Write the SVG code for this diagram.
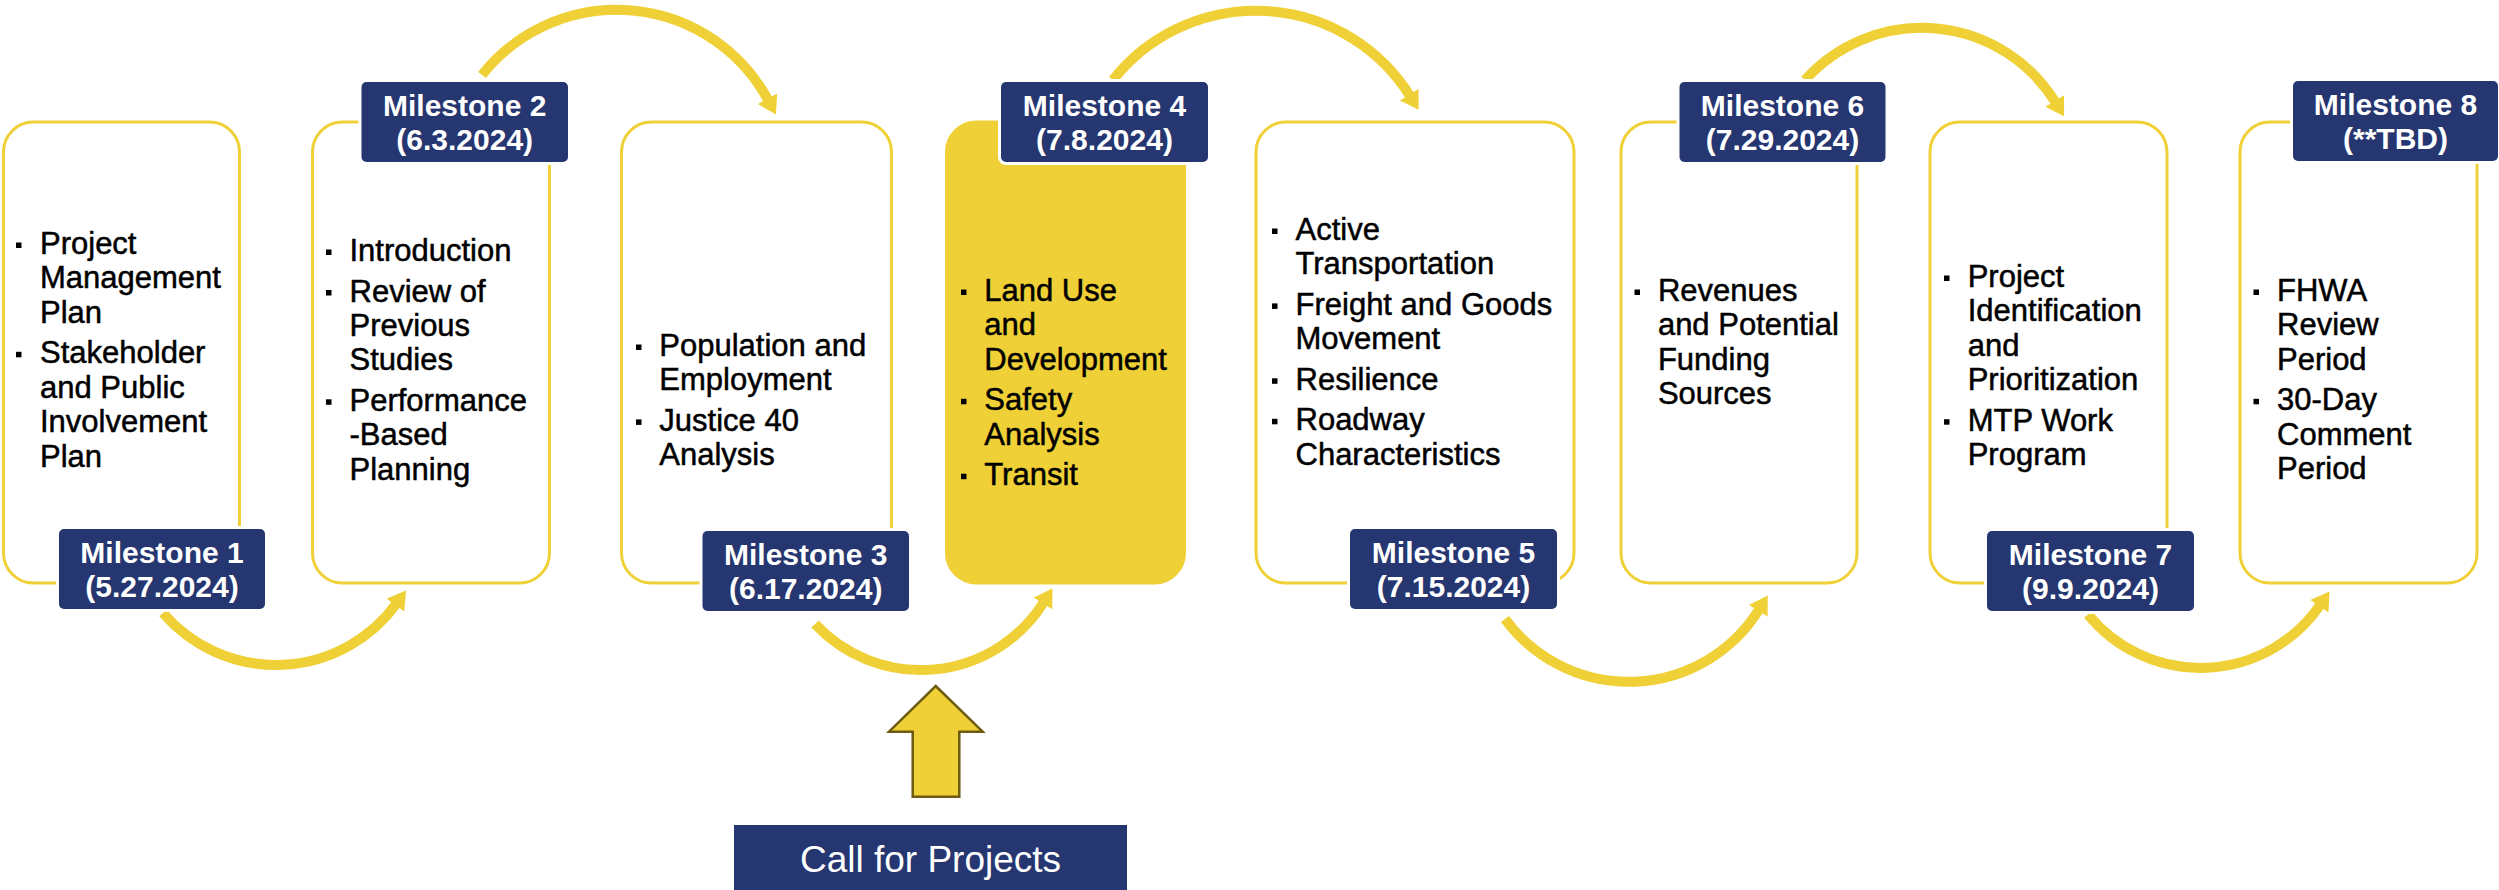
<svg xmlns="http://www.w3.org/2000/svg" width="2499" height="890" viewBox="0 0 2499 890">
<style>
.box{fill:#fff;stroke:#EFD036;stroke-width:3}
.hl{fill:#EFD036}
.lbl{fill:#253670;stroke:#fff;stroke-width:6;paint-order:stroke}
.lt{font-family:"Liberation Sans",Arial,sans-serif;font-weight:bold;font-size:30px;fill:#fff;text-anchor:middle}
.bt{font-family:"Liberation Sans",Arial,sans-serif;font-size:31px;fill:#000;stroke:#000;stroke-width:0.5}
.bul{fill:#000}
.arc{fill:none;stroke:#EFD036;stroke-width:10;marker-end:url(#ah)}
.cfp{fill:#EFD036;stroke:#6E5B12;stroke-width:2.5;stroke-linejoin:miter}
.ct{font-family:"Liberation Sans",Arial,sans-serif;font-size:37px;fill:#fff;text-anchor:middle}
</style>
<defs>
<marker id="ah" markerUnits="userSpaceOnUse" markerWidth="30" markerHeight="30" viewBox="0 -15 30 30" refX="2" refY="0" orient="auto">
<path d="M0,-11 L18,0 L0,11 z" fill="#EFD036"/>
</marker>
</defs>

<g id="box1">
<rect class="box" x="3.5" y="122" width="236" height="461" rx="30"/>
<rect class="bul" x="16" y="242.5" width="5.5" height="5.5"/>
<rect class="bul" x="16" y="351.8" width="5.5" height="5.5"/>
<text class="bt"><tspan x="40" y="254">Project</tspan><tspan x="40" y="288.4">Management</tspan><tspan x="40" y="322.8">Plan</tspan><tspan x="40" y="363.3">Stakeholder</tspan><tspan x="40" y="397.7">and Public</tspan><tspan x="40" y="432.1">Involvement</tspan><tspan x="40" y="466.5">Plan</tspan></text>
</g>

<g id="box2">
<rect class="box" x="312.5" y="122" width="237" height="461" rx="30"/>
<rect class="bul" x="326" y="249.5" width="5.5" height="5.5"/>
<rect class="bul" x="326" y="290" width="5.5" height="5.5"/>
<rect class="bul" x="326" y="399.3" width="5.5" height="5.5"/>
<text class="bt"><tspan x="349.5" y="261">Introduction</tspan><tspan x="349.5" y="301.5">Review of</tspan><tspan x="349.5" y="335.9">Previous</tspan><tspan x="349.5" y="370.3">Studies</tspan><tspan x="349.5" y="410.8">Performance</tspan><tspan x="349.5" y="445.2">-Based</tspan><tspan x="349.5" y="479.6">Planning</tspan></text>
</g>

<g id="box3">
<rect class="box" x="621.5" y="122" width="270" height="461" rx="30"/>
<rect class="bul" x="636" y="344.5" width="5.5" height="5.5"/>
<rect class="bul" x="636" y="419.4" width="5.5" height="5.5"/>
<text class="bt"><tspan x="659.3" y="356">Population and</tspan><tspan x="659.3" y="390.4">Employment</tspan><tspan x="659.3" y="430.9">Justice 40</tspan><tspan x="659.3" y="465.3">Analysis</tspan></text>
</g>

<g id="box4">
<rect class="box hl" x="946.5" y="122" width="238" height="461" rx="30"/>
<rect class="bul" x="961" y="289.5" width="5.5" height="5.5"/>
<rect class="bul" x="961" y="398.8" width="5.5" height="5.5"/>
<rect class="bul" x="961" y="473.7" width="5.5" height="5.5"/>
<text class="bt"><tspan x="984.3" y="301">Land Use</tspan><tspan x="984.3" y="335.4">and</tspan><tspan x="984.3" y="369.8">Development</tspan><tspan x="984.3" y="410.3">Safety</tspan><tspan x="984.3" y="444.7">Analysis</tspan><tspan x="984.3" y="485.2">Transit</tspan></text>
</g>

<g id="box5">
<rect class="box" x="1256" y="122" width="318" height="461" rx="30"/>
<rect class="bul" x="1272" y="228.5" width="5.5" height="5.5"/>
<rect class="bul" x="1272" y="303.4" width="5.5" height="5.5"/>
<rect class="bul" x="1272" y="378.3" width="5.5" height="5.5"/>
<rect class="bul" x="1272" y="418.8" width="5.5" height="5.5"/>
<text class="bt"><tspan x="1295.5" y="240">Active</tspan><tspan x="1295.5" y="274.4">Transportation</tspan><tspan x="1295.5" y="314.9">Freight and Goods</tspan><tspan x="1295.5" y="349.3">Movement</tspan><tspan x="1295.5" y="389.8">Resilience</tspan><tspan x="1295.5" y="430.3">Roadway</tspan><tspan x="1295.5" y="464.7">Characteristics</tspan></text>
</g>

<g id="box6">
<rect class="box" x="1621" y="122" width="236" height="461" rx="30"/>
<rect class="bul" x="1634.5" y="289.5" width="5.5" height="5.5"/>
<text class="bt"><tspan x="1657.9" y="301">Revenues</tspan><tspan x="1657.9" y="335.4">and Potential</tspan><tspan x="1657.9" y="369.8">Funding</tspan><tspan x="1657.9" y="404.2">Sources</tspan></text>
</g>

<g id="box7">
<rect class="box" x="1930" y="122" width="237" height="461" rx="30"/>
<rect class="bul" x="1944" y="275.5" width="5.5" height="5.5"/>
<rect class="bul" x="1944" y="419.2" width="5.5" height="5.5"/>
<text class="bt"><tspan x="1967.7" y="287">Project</tspan><tspan x="1967.7" y="321.4">Identification</tspan><tspan x="1967.7" y="355.8">and</tspan><tspan x="1967.7" y="390.2">Prioritization</tspan><tspan x="1967.7" y="430.7">MTP Work</tspan><tspan x="1967.7" y="465.1">Program</tspan></text>
</g>

<g id="box8">
<rect class="box" x="2240" y="122" width="237" height="461" rx="30"/>
<rect class="bul" x="2253.5" y="289.5" width="5.5" height="5.5"/>
<rect class="bul" x="2253.5" y="398.8" width="5.5" height="5.5"/>
<text class="bt"><tspan x="2277" y="301">FHWA</tspan><tspan x="2277" y="335.4">Review</tspan><tspan x="2277" y="369.8">Period</tspan><tspan x="2277" y="410.3">30-Day</tspan><tspan x="2277" y="444.7">Comment</tspan><tspan x="2277" y="479.1">Period</tspan></text>
</g>

<g id="connectors">
<path class="arc" d="M 163 613 A 149 149 0 0 0 396.6 603.5"/>
<path class="arc" d="M 482 75 A 172 172 0 0 1 768.4 100.5"/>
<path class="arc" d="M 815 624 A 145 145 0 0 0 1044 601.8"/>
<path class="arc" d="M 1113 80 A 182 182 0 0 1 1410.2 96.3"/>
<path class="arc" d="M 1505 619 A 153.5 153.5 0 0 0 1759.3 609.1"/>
<path class="arc" d="M 1805 80 A 157 157 0 0 1 2055.7 102.7"/>
<path class="arc" d="M 2088 614.5 A 145.3 145.3 0 0 0 2320.5 604.6"/>
<polygon class="cfp" points="935.7,686 982.7,731.7 959.3,731.7 959.3,796.7 912.7,796.7 912.7,731.7 889,731.7"/>
</g>

<g id="m1"><rect class="lbl" x="59" y="529" width="206" height="80" rx="5"/><text class="lt" x="162" y="563">Milestone 1</text><text class="lt" x="162" y="597">(5.27.2024)</text></g>
<g id="m2"><rect class="lbl" x="361.5" y="82" width="206.5" height="80" rx="5"/><text class="lt" x="464.7" y="116">Milestone 2</text><text class="lt" x="464.7" y="150">(6.3.2024)</text></g>
<g id="m3"><rect class="lbl" x="702.5" y="531" width="206.5" height="80" rx="5"/><text class="lt" x="805.7" y="565">Milestone 3</text><text class="lt" x="805.7" y="599">(6.17.2024)</text></g>
<g id="m4"><rect class="lbl" x="1001" y="82" width="207" height="80" rx="5"/><text class="lt" x="1104.5" y="116">Milestone 4</text><text class="lt" x="1104.5" y="150">(7.8.2024)</text></g>
<g id="m5"><rect class="lbl" x="1350" y="529" width="207" height="80" rx="5"/><text class="lt" x="1453.5" y="563">Milestone 5</text><text class="lt" x="1453.5" y="597">(7.15.2024)</text></g>
<g id="m6"><rect class="lbl" x="1679.5" y="82" width="206" height="80" rx="5"/><text class="lt" x="1782.5" y="116">Milestone 6</text><text class="lt" x="1782.5" y="150">(7.29.2024)</text></g>
<g id="m7"><rect class="lbl" x="1987" y="531" width="207" height="80" rx="5"/><text class="lt" x="2090.5" y="565">Milestone 7</text><text class="lt" x="2090.5" y="599">(9.9.2024)</text></g>
<g id="m8"><rect class="lbl" x="2293" y="81" width="205" height="80" rx="5"/><text class="lt" x="2395.5" y="115">Milestone 8</text><text class="lt" x="2395.5" y="149">(**TBD)</text></g>

<g id="call-for-projects">
<rect x="734" y="825" width="393" height="70" fill="#253670"/>
<text class="ct" x="930.5" y="872">Call for Projects</text>
</g>
</svg>
